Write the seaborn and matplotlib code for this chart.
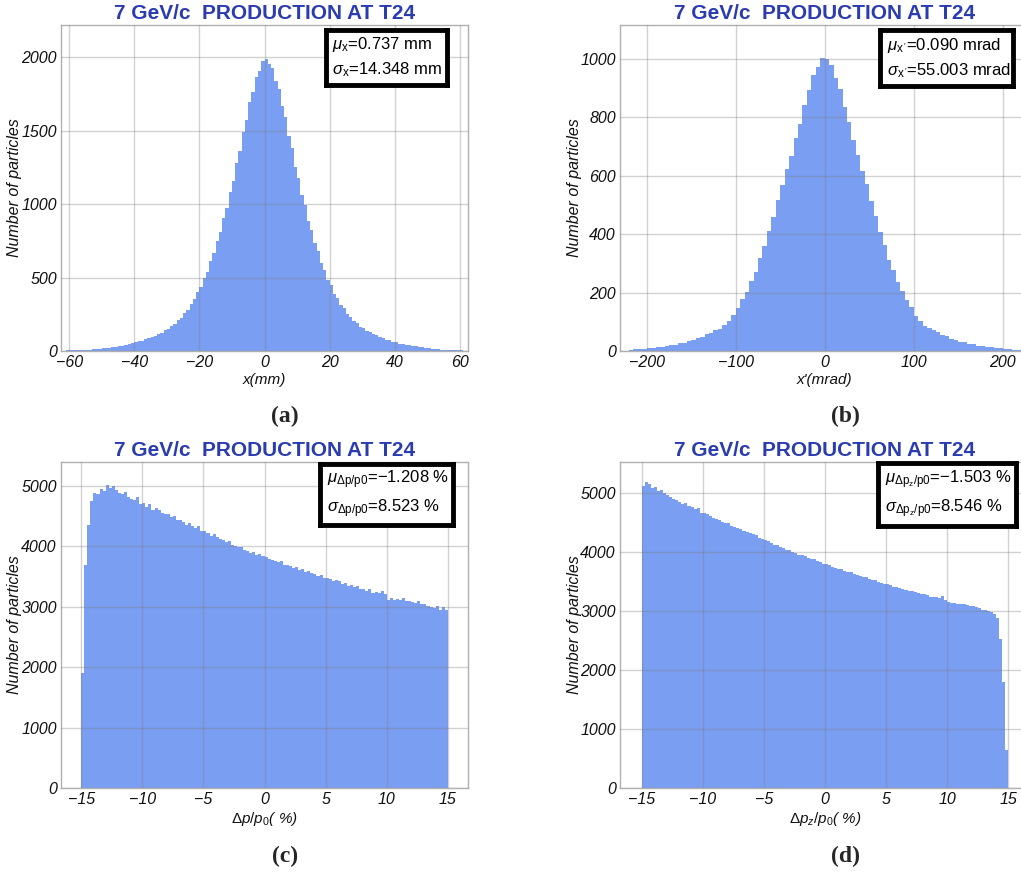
import numpy as np
import pandas as pd
import matplotlib
matplotlib.use("Agg")
import matplotlib.pyplot as plt
import seaborn as sns

# ---------------- data ----------------
# (a) x (mm): 1 mm bins from -62 to 62
x_left = [3, 4, 5, 5, 6, 7, 8, 10, 10, 12,
          15, 16, 18, 22, 23, 28, 30, 35, 37, 44,
          47, 54, 58, 66, 71, 80, 86, 97, 104, 118,
          125, 141, 150, 170, 184, 209, 227, 258, 282, 322,
          351, 400, 436, 495, 540, 612, 664, 748, 808, 905,
          972, 1082, 1155, 1280, 1358, 1490, 1570, 1695, 1760, 1865,
          1905, 1975]
x_right = [1990, 1955, 1925, 1840, 1785, 1670, 1590, 1465, 1380, 1255,
           1175, 1060, 990, 885, 825, 732, 678, 598, 552, 484,
           446, 390, 362, 312, 290, 250, 233, 202, 188, 164,
           154, 136, 129, 113, 108, 94, 89, 77, 74, 63,
           60, 51, 49, 42, 39, 33, 32, 26, 25, 20,
           19, 15, 14, 11, 10, 8, 8, 6, 5, 4,
           4, 3]
x_counts = x_left + x_right

# (b) x' (mrad): 5 mrad bins from -220 to 220
xp_left = [5, 6, 7, 8, 9, 11, 13, 15, 17, 19,
           22, 26, 29, 33, 37, 44, 48, 57, 62, 73,
           76, 89, 101, 122, 148, 178, 203, 240, 272, 318,
           358, 412, 458, 518, 568, 622, 668, 728, 778, 842,
           893, 944, 972, 1002]
xp_right = [998, 978, 936, 898, 836, 784, 722, 672, 616, 572,
            512, 462, 406, 362, 312, 277, 236, 207, 173, 151,
            119, 104, 87, 78, 71, 64, 55, 50, 42, 39,
            32, 30, 24, 23, 18, 17, 14, 13, 10, 10,
            7, 7, 5, 5]
xp_counts = xp_left + xp_right

# (c) dp/p0 (%): 0.25 % bins from -15 to 15
dp_counts = [1900, 3700, 4350, 4750, 4880, 4860, 4950, 4920,
             5010, 4960, 5000, 4930, 4890, 4860, 4900, 4810,
             4790, 4760, 4820, 4700, 4720, 4660, 4700, 4610,
             4630, 4600, 4560, 4540, 4530, 4480, 4510, 4430,
             4440, 4410, 4360, 4380, 4340, 4300, 4330, 4250,
             4260, 4220, 4180, 4200, 4160, 4130, 4100, 4070,
             4090, 4030, 4010, 3990, 3990, 3940, 3930, 3890,
             3910, 3860, 3880, 3840, 3820, 3790, 3770, 3760,
             3740, 3760, 3700, 3690, 3680, 3640, 3660, 3610,
             3620, 3580, 3600, 3560, 3540, 3510, 3520, 3480,
             3470, 3460, 3430, 3440, 3420, 3380, 3400, 3350,
             3360, 3330, 3340, 3300, 3300, 3260, 3290, 3230,
             3240, 3220, 3260, 3210, 3120, 3150, 3110, 3130,
             3110, 3140, 3090, 3100, 3080, 3060, 3100, 3040,
             3050, 3020, 3000, 2980, 3010, 2940, 3000, 2950]

# (d) dpz/p0 (%): 0.25 % bins from -15 to 15
dpz_counts = [5120, 5180, 5150, 5080, 5100, 5030, 5050, 4990,
              4960, 4930, 4900, 4870, 4850, 4800, 4830, 4770,
              4760, 4720, 4740, 4660, 4660, 4640, 4600, 4570,
              4560, 4540, 4500, 4490, 4480, 4440, 4420, 4400,
              4390, 4350, 4340, 4310, 4300, 4280, 4240, 4220,
              4200, 4180, 4140, 4120, 4110, 4080, 4060, 4030,
              4030, 4000, 3980, 3950, 3950, 3920, 3900, 3880,
              3870, 3840, 3820, 3790, 3790, 3780, 3740, 3720,
              3710, 3700, 3670, 3650, 3650, 3620, 3600, 3590,
              3580, 3570, 3540, 3520, 3520, 3490, 3470, 3460,
              3450, 3430, 3410, 3400, 3390, 3370, 3350, 3340,
              3330, 3310, 3300, 3280, 3280, 3270, 3240, 3230,
              3230, 3210, 3250, 3190, 3150, 3130, 3140, 3120,
              3120, 3110, 3090, 3080, 3080, 3060, 3050, 3020,
              3020, 2990, 2980, 2940, 2870, 2520, 1800, 650]

title_text = "7 GeV/c  PRODUCTION AT T24"
xlabels = ["x(mm)", "x'(mrad)", r"$\mathit{\Delta p/p_0}$( %)", r"$\mathit{\Delta p_z/p_0}$( %)"]
stats = [
    r"$\mu_{\rm x}$=0.737 mm" + "\n" + r"$\sigma_{\rm x}$=14.348 mm",
    r"$\mu_{\rm x\,'}$=0.090 mrad" + "\n" + r"$\sigma_{\rm x\,'}$=55.003 mrad",
    r"$\mu_{\rm \Delta p/p0}$=−1.208 %" + "\n" + r"$\sigma_{\rm \Delta p/p0}$=8.523 %",
    r"$\mu_{\rm \Delta p_z/p0}$=−1.503 %" + "\n" + r"$\sigma_{\rm \Delta p_z/p0}$=8.546 %",
]
captions = ["(a)", "(b)", "(c)", "(d)"]
xticks = [[-60, -40, -20, 0, 20, 40, 60], [-200, -100, 0, 100, 200],
          [-15, -10, -5, 0, 5, 10, 15], [-15, -10, -5, 0, 5, 10, 15]]
yticks = [[0, 500, 1000, 1500, 2000], [0, 200, 400, 600, 800, 1000],
          [0, 1000, 2000, 3000, 4000, 5000], [0, 1000, 2000, 3000, 4000, 5000]]

# ---------------- styling ----------------
sns.set_theme(style="white")
plt.rcParams["font.family"] = ["Liberation Sans", "DejaVu Sans"]
plt.rcParams["mathtext.fontset"] = "custom"
plt.rcParams["mathtext.rm"] = "Liberation Sans"
plt.rcParams["mathtext.it"] = "Liberation Sans:italic"
plt.rcParams["mathtext.bf"] = "Liberation Sans:bold"
plt.rcParams["axes.unicode_minus"] = True

W, H = 1021, 873
fig = plt.figure(figsize=(W / 100, H / 100), dpi=100)

BAR = "#7a9ef2"
TITLE_C = "#2b3cb0"

def px_axes(l, t, r, b):
    return fig.add_axes([l / W, 1 - b / H, (r - l) / W, (b - t) / H])

panels = [
    dict(box=(61, 25, 468, 351), lo=-62.0, w=1.0, counts=x_counts,
         xlim=(-62.5, 62.5), ylim=(0, 2218), legend=(326, 30, 447, 85), cap=(285, 416)),
    dict(box=(620, 25, 1029.4, 351), lo=-220.0, w=5.0, counts=xp_counts,
         xlim=(-230, 230), ylim=(0, 1116), legend=(880, 30, 1013, 86), cap=(845, 416)),
    dict(box=(61, 462, 468, 788), lo=-15.0, w=0.25, counts=dp_counts,
         xlim=(-16.65, 16.65), ylim=(0, 5397), legend=(320, 464, 453, 525), cap=(285, 856)),
    dict(box=(620, 462, 1030, 788), lo=-15.0, w=0.25, counts=dpz_counts,
         xlim=(-16.77, 16.77), ylim=(0, 5519), legend=(878, 463, 1016, 526), cap=(845, 856)),
]

for i, p in enumerate(panels):
    ax = px_axes(*p["box"])
    l0, t0, r0, b0 = p["box"]
    n = len(p["counts"])
    lo, w = p["lo"], p["w"]
    hi = lo + n * w
    centers = lo + w * (np.arange(n) + 0.5)
    df = pd.DataFrame({"v": centers, "n": np.asarray(p["counts"], dtype=float)})
    sns.histplot(data=df, x="v", weights="n", binwidth=w, binrange=(lo, hi), ax=ax,
                 color=BAR, alpha=1.0, linewidth=0, element="bars")
    ax.set_xlim(*p["xlim"])
    ax.set_ylim(*p["ylim"])
    ax.set_xticks(xticks[i])
    ax.set_yticks(yticks[i])
    ax.set_xticklabels([str(v).replace("-", "\u2212") for v in xticks[i]],
                       fontstyle="italic", fontsize=11.5)
    ax.set_yticklabels([str(v) for v in yticks[i]], fontstyle="italic", fontsize=11.5)
    ax.tick_params(length=0, pad=3, colors="#111111")
    ax.grid(True, color="#7f7f7f", alpha=0.35, linewidth=1.0)
    ax.set_axisbelow(False)
    for s in ax.spines.values():
        s.set_color("#b0b0b0")
        s.set_linewidth(1.0)
    ax.set_xlabel(xlabels[i], fontstyle="italic", fontsize=11, labelpad=2, color="#111111")
    ax.set_ylabel("Number of particles", fontstyle="italic", fontsize=11.5, color="#111111")
    ax.yaxis.label.set_va("center")
    ax.yaxis.set_label_coords(-46.0 / (r0 - l0), 0.5)
    ax.set_title(title_text, fontsize=15, fontweight="bold", color=TITLE_C, pad=4)

    # stats box
    l, t, r, b = p["legend"]
    lx = fig.add_axes([l / W, 1 - b / H, (r - l) / W, (b - t) / H])
    lx.set_xticks([]); lx.set_yticks([])
    lx.set_facecolor("white")
    for s in lx.spines.values():
        s.set_color("black")
        s.set_linewidth(3.5)
    lx.text(0.05, 0.5, stats[i], transform=lx.transAxes, ha="left", va="center",
            fontsize=12, linespacing=1.45, color="black")

    cx, cy = p["cap"]
    fig.text(cx / W, 1 - cy / H, captions[i], ha="center", va="center",
             fontsize=17, fontweight="bold", family="Liberation Serif")

fig.savefig("out.png", dpi=100)
